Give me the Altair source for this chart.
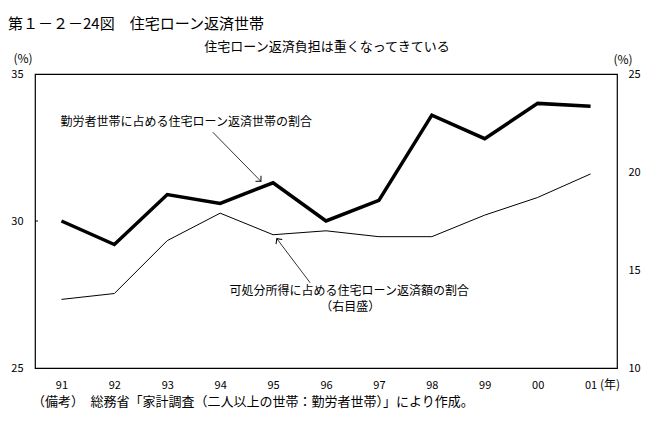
import altair as alt
import pandas as pd

# ---- data ----
years = [1991, 1992, 1993, 1994, 1995, 1996, 1997, 1998, 1999, 2000, 2001]
share_households = [30.0, 29.2, 30.9, 30.6, 31.3, 30.0, 30.7, 33.6, 32.8, 34.0, 33.9]   # left axis
share_income = [13.5, 13.8, 16.5, 17.9, 16.8, 17.0, 16.7, 16.7, 17.8, 18.7, 19.9]        # right axis

ann_labels = ["勤労者世帯に占める住宅ローン返済世帯の割合",
              "可処分所得に占める住宅ローン返済額の割合",
              "（右目盛）"]
ann_x = [1993.36, 1996.44, 1996.46]
ann_y = [33.36, 27.63, 27.08]

arrow_x = [1993.86, 1995.70]
arrow_y = [33.02, 27.90]
arrow_x2 = [1994.77, 1995.07]
arrow_y2 = [31.35, 29.40]
arrow_angle = [136, 323]

FONT = "Noto Sans CJK JP"

df = pd.DataFrame({"year": years, "hh": share_households, "inc": share_income})
ann = pd.DataFrame({"year": ann_x, "val": ann_y, "label": ann_labels})
arr = pd.DataFrame({"year": arrow_x, "y": arrow_y, "x2": arrow_x2, "y2": arrow_y2, "angle": arrow_angle})
heads = pd.DataFrame({"year": arrow_x2, "y2": arrow_y2, "angle": arrow_angle})

xscale = alt.Scale(domain=[1990.5, 2001.5], nice=False, zero=False)
yleft = alt.Scale(domain=[25, 35], nice=False, zero=False)
yright = alt.Scale(domain=[10, 25], nice=False, zero=False)

xaxis = alt.Axis(values=years, labelExpr="substring(toString(datum.value), 2)",
                 title=None, grid=False, ticks=False, domain=False, labelPadding=11,
                 labelFlush=False, labelFont=FONT, labelFontSize=11, labelColor="black")
X = alt.X("year:Q", scale=xscale, axis=xaxis, title=None)

leftaxis = alt.Axis(orient="left", values=[25, 30, 35], title=None, grid=False,
                    ticks=False, domain=False, labelPadding=12, labelFont=FONT,
                    labelFontSize=11, labelColor="black")

thick = alt.Chart(df).mark_line(color="black", strokeWidth=3.5, strokeJoin="miter").encode(
    x=X,
    y=alt.Y("hh:Q", scale=yleft, axis=leftaxis, title=None),
)

tick30 = alt.Chart(pd.DataFrame({"v": [30]})).mark_rule(color="black", strokeWidth=1).encode(
    y=alt.Y("v:Q", scale=yleft, axis=leftaxis, title=None), x=alt.value(0), x2=alt.value(3)
)

ann_text = alt.Chart(ann).mark_text(font=FONT, fontSize=12, color="black", align="center",
                                     baseline="middle").encode(
    x=X,
    y=alt.Y("val:Q", scale=yleft, axis=leftaxis, title=None),
    text="label:N",
)

arrow_rule = alt.Chart(arr).mark_rule(color="black", strokeWidth=0.8).encode(
    x=X, y=alt.Y("y:Q", scale=yleft, axis=leftaxis, title=None),
    x2="x2:Q", y2="y2:Q",
)
arrow_head = alt.Chart(heads).mark_point(shape="M-1,1L0,0L1,1", filled=False, color="black",
                                         strokeWidth=1, size=60, opacity=1).encode(
    x=X, y=alt.Y("y2:Q", scale=yleft, axis=leftaxis, title=None),
    angle=alt.Angle("angle:Q", scale=None),
)

base_txt = alt.Chart(pd.DataFrame({"a": [0]}))
def label(text, x, y, size=12, align="left"):
    return base_txt.mark_text(text=text, font=FONT, fontSize=size, color="black",
                              align=align, baseline="middle").encode(
        x=alt.value(x), y=alt.value(y))

texts = alt.layer(
    label("第１－２－24図　住宅ローン返済世帯", -27, -50, 15),
    label("住宅ローン返済負担は重くなってきている", 292, -27, 13, "center"),
    label("(%)", -12, -15, 12, "center"),
    label("(%)", 588, -14, 12, "center"),
    label("(年)", 565, 311, 12),
    label("（備考）　総務省「家計調査（二人以上の世帯：勤労者世帯）」により作成。", -3, 328, 13),
)

thin = alt.Chart(df).mark_line(color="black", strokeWidth=1).encode(
    x=X,
    y=alt.Y("inc:Q", scale=yright, title=None,
            axis=alt.Axis(orient="right", values=[10, 15, 20, 25], title=None, grid=False,
                          ticks=False, domain=False, labelPadding=11, labelFont=FONT,
                          labelFontSize=11, labelColor="black")),
)

left = alt.layer(thick, tick30, ann_text, arrow_rule, arrow_head, texts)
chart = alt.layer(left, thin).resolve_scale(y="independent").properties(
    width=582, height=294,
    autosize=alt.AutoSizeParams(type="none"),
    padding={"left": 27, "top": 66, "right": 35, "bottom": 48},
    background="white",
).configure_view(stroke="black", strokeWidth=1.2)

chart.save("out.html", embed_options={"renderer": "svg", "actions": False})
